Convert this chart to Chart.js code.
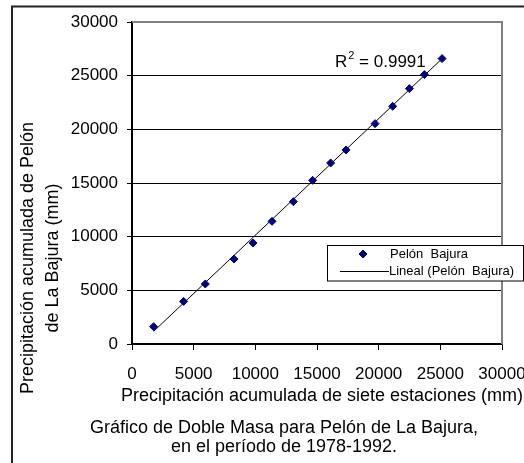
<!DOCTYPE html>
<html>
<head>
<meta charset="utf-8">
<script src="https://cdn.jsdelivr.net/npm/chart.js@4.4.0/dist/chart.umd.min.js"></script>
<style>
  html, body { margin: 0; padding: 0; background: #fff; }
  canvas { display: block; }
</style>
</head>
<body>
<canvas id="dobleMasa" width="524" height="463"></canvas>
<script>
// precipitacion acumulada (mm)
const estaciones = [1752, 4185, 5945, 8272, 9813, 11354, 13082, 14647, 16107, 17356, 19708, 21136, 22490, 23707, 25142];
const pelonBajura = [1612, 3970, 5592, 7921, 9413, 11426, 13262, 15247, 16868, 18080, 20531, 22144, 23793, 25098, 26589];
const linealX = [1752, 25000];
const linealY = [1174, 26430];
const xTicks = [0, 5000, 10000, 15000, 20000, 25000, 30000];
const yTicks = [0, 5000, 10000, 15000, 20000, 25000, 30000];

const FONT = "'Liberation Sans', Arial, sans-serif";

const decor = {
  id: "decor",
  afterDraw(chart) {
    const { ctx, chartArea: a } = chart;
    ctx.save();

    // marco exterior
    ctx.strokeStyle = "#222";
    ctx.lineWidth = 2;
    ctx.strokeRect(12, 6.5, 700, 700);

    // borde gris del area de trazado
    ctx.strokeStyle = "#808080";
    ctx.lineWidth = 2;
    ctx.beginPath();
    ctx.moveTo(a.left, a.top);
    ctx.lineTo(a.right, a.top);
    ctx.lineTo(a.right, a.bottom);
    ctx.stroke();

    ctx.fillStyle = "#000";
    ctx.textBaseline = "alphabetic";

    // R^2
    ctx.textAlign = "left";
    ctx.font = "17px " + FONT;
    ctx.fillText("R", 335, 67);
    let x = 335 + ctx.measureText("R").width;
    ctx.font = "11px " + FONT;
    ctx.fillText("2", x + 1, 59);
    x += ctx.measureText("2").width + 1;
    ctx.font = "17px " + FONT;
    ctx.fillText(" = 0.9991", x, 67);

    // titulo eje x
    ctx.textAlign = "center";
    ctx.font = "18px " + FONT;
    ctx.fillText("Precipitación acumulada de siete estaciones (mm)", 322, 401);

    // pie
    ctx.fillText("Gráfico de Doble Masa para Pelón de La Bajura,", 284, 433);
    ctx.fillText("en el período de 1978-1992.", 284, 452);

    // titulo eje y
    ctx.save();
    ctx.translate(33, 258);
    ctx.rotate(-Math.PI / 2);
    ctx.fillText("Precipitación acumulada de Pelón", 0, 0);
    ctx.fillText("de La Bajura (mm)", 0, 25);
    ctx.restore();

    // leyenda
    ctx.fillStyle = "#fff";
    ctx.fillRect(327.5, 245.5, 196, 35.5);
    ctx.strokeStyle = "#000";
    ctx.lineWidth = 1;
    ctx.strokeRect(327.5, 245.5, 196, 35.5);

    ctx.fillStyle = "#000080";
    ctx.strokeStyle = "#000080";
    Chart.helpers.drawPoint(ctx, { pointStyle: "rectRot", radius: 4, borderWidth: 1 }, 363, 254);

    ctx.strokeStyle = "#000";
    ctx.beginPath();
    ctx.moveTo(340, 271.5);
    ctx.lineTo(389, 271.5);
    ctx.stroke();

    ctx.fillStyle = "#000";
    ctx.textAlign = "left";
    ctx.textBaseline = "middle";
    ctx.font = "13px " + FONT;
    ctx.fillText("Pelón  Bajura", 390, 254);
    ctx.fillText("Lineal (Pelón  Bajura)", 389, 271);

    ctx.restore();
  }
};

const ctx = document.getElementById("dobleMasa").getContext("2d");

new Chart(ctx, {
  type: "scatter",
  data: {
    datasets: [
      {
        label: "Pelón  Bajura",
        data: estaciones.map((v, i) => ({ x: v, y: pelonBajura[i] })),
        pointStyle: "rectRot",
        pointRadius: 4,
        pointHoverRadius: 4,
        backgroundColor: "#000080",
        borderColor: "#000080",
        borderWidth: 1,
        order: 1
      },
      {
        label: "Lineal (Pelón  Bajura)",
        data: linealX.map((v, i) => ({ x: v, y: linealY[i] })),
        showLine: true,
        pointRadius: 0,
        borderColor: "#000",
        borderWidth: 1,
        order: 2
      }
    ]
  },
  options: {
    responsive: false,
    animation: false,
    events: [],
    layout: { padding: { top: 22, right: 22, left: 0, bottom: 0 } },
    plugins: {
      legend: { display: false },
      tooltip: { enabled: false }
    },
    scales: {
      x: {
        type: "linear",
        min: 0,
        max: 30000,
        afterBuildTicks: (s) => { s.ticks = xTicks.map((v) => ({ value: v })); },
        afterFit: (s) => { s.height = 119; s.paddingLeft = 0; s.paddingRight = 0; },
        grid: { drawOnChartArea: false, tickLength: 6, color: "#000" },
        border: { color: "#000", width: 1.5 },
        ticks: {
          padding: 14,
          color: "#000",
          font: { family: FONT, size: 17 },
          callback: (v) => String(v)
        }
      },
      y: {
        type: "linear",
        min: 0,
        max: 30000,
        afterBuildTicks: (s) => { s.ticks = yTicks.map((v) => ({ value: v })); },
        afterFit: (s) => { s.width = 132; s.paddingTop = 0; s.paddingBottom = 0; },
        grid: { color: "#000", lineWidth: 1, tickLength: 5 },
        border: { color: "#000", width: 2 },
        ticks: {
          padding: 9,
          color: "#000",
          font: { family: FONT, size: 17 },
          callback: (v) => String(v)
        }
      }
    }
  },
  plugins: [decor]
});
</script>
</body>
</html>
